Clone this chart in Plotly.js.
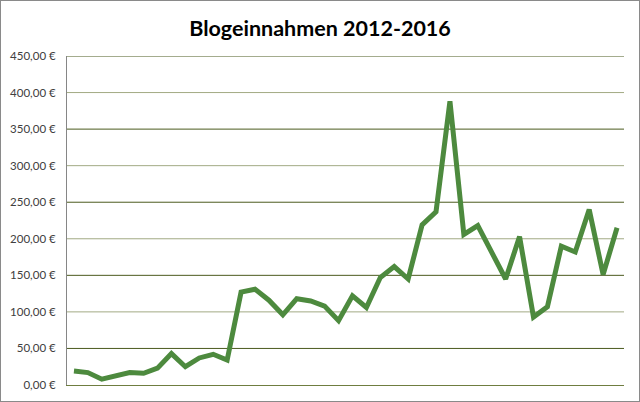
<!DOCTYPE html>
<html>
<head>
<meta charset="utf-8">
<script src="https://cdn.plot.ly/plotly-3.0.1.min.js"></script>
<style>
  html, body { margin: 0; padding: 0; background: #fff; }
  #frame { width: 640px; height: 402px; box-sizing: border-box; border: 1px solid #8a8a8a; overflow: hidden; }
  #chart { width: 638px; height: 400px; }
</style>
</head>
<body>
<div id="frame"><div id="chart"></div></div>
<script>
// Data (in €)
const periods = Array.from({length: 40}, (_, i) => 'P' + (i + 1));
const earnings = [19, 17, 8, 13, 17, 16, 23, 43, 25, 37,
                  42, 34, 127, 131, 116, 96, 118, 115, 108, 88,
                  122, 106, 147, 162, 145, 219, 237, 388, 206, 218,
                  181, 145, 203, 93, 107, 190, 182, 240, 151, 215];
const tickVals = [0, 50, 100, 150, 200, 250, 300, 350, 400, 450];
const tickText = ['0,00 €', '50,00 €', '100,00 €', '150,00 €', '200,00 €',
                  '250,00 €', '300,00 €', '350,00 €', '400,00 €', '450,00 €'];

const gridShapes = tickVals.filter(v => v > 0).map(v => ({
  type: 'line', xref: 'paper', yref: 'y', x0: 0, x1: 1, y0: v, y1: v,
  line: { color: (v / 50) % 2 === 1 ? '#4b5a1e' : '#a2aa84', width: 1 },
  layer: 'below'
}));

const trace = {
  x: periods, y: earnings, type: 'scatter', mode: 'lines',
  line: { color: '#4d8a3e', width: 5 },
  hoverinfo: 'y'
};

const layout = {
  width: 638, height: 400,
  margin: { l: 66, r: 15, t: 55, b: 16 },
  paper_bgcolor: '#ffffff', plot_bgcolor: '#ffffff',
  title: {
    text: '<b>Blogeinnahmen 2012-2016</b>',
    font: { family: 'Lato, "Liberation Sans", sans-serif', size: 21.5, color: '#000000' },
    x: 0.5, xanchor: 'center', y: 0.932, yanchor: 'middle'
  },
  showlegend: false,
  xaxis: {
    type: 'category', range: [-0.5, 39.5],
    showticklabels: false, showgrid: false, zeroline: false,
    showline: true, linecolor: '#6f7d40', linewidth: 1, ticks: ''
  },
  yaxis: {
    range: [0, 450], tickvals: tickVals, ticktext: tickText,
    showgrid: false, zeroline: false,
    showline: true, linecolor: '#868686', linewidth: 1,
    ticks: '', ticklen: 0, ticklabelstandoff: 8,
    tickfont: { family: 'Lato, "Liberation Sans", sans-serif', size: 11.5, color: '#404040' }
  },
  shapes: gridShapes
};

Plotly.newPlot('chart', [trace], layout, { displayModeBar: false, staticPlot: true });
</script>
</body>
</html>
